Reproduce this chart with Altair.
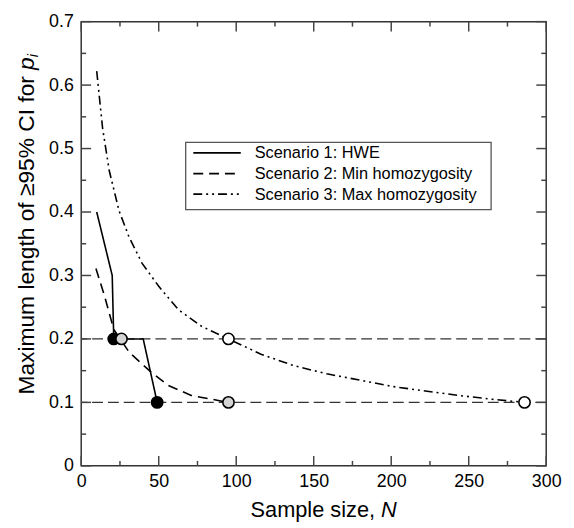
import altair as alt
import pandas as pd

FONT = "Liberation Sans"
W, H = 470, 449

scenario_names = ["Scenario 1: HWE", "Scenario 2: Min homozygosity", "Scenario 3: Max homozygosity"]
scenario_dashes = [[1, 0], [10, 6], [9, 4, 2, 4, 2, 4]]

s1_N = [10, 20, 21, 40, 49]
s1_y = [0.40, 0.30, 0.20, 0.20, 0.10]

s2_N = [9.5, 15, 21, 26, 31, 44, 56, 71, 95]
s2_y = [0.311, 0.268, 0.215, 0.197, 0.179, 0.150, 0.127, 0.111, 0.100]

s3_N = [10, 13.8, 18.1, 24.4, 30.8, 39.3, 50, 62.7, 77.6, 95, 116, 137, 158.5, 180, 201, 222, 243.5, 265, 286]
s3_y = [0.622, 0.532, 0.465, 0.402, 0.361, 0.319, 0.283, 0.246, 0.220, 0.200, 0.176, 0.158, 0.145,
        0.135, 0.125, 0.118, 0.111, 0.105, 0.100]

pt_N = [21, 49, 26, 95, 95, 286]
pt_y = [0.2, 0.1, 0.2, 0.1, 0.2, 0.1]
pt_fill = ["black", "black", "#d4d4d4", "#d4d4d4", "white", "white"]

ref_y = [0.1, 0.2]

x_major = [0, 50, 100, 150, 200, 250, 300]
x_minor = [25, 75, 125, 175, 225, 275]
y_major = [0, 0.1, 0.2, 0.3, 0.4, 0.5, 0.6, 0.7]
y_minor = [0.05, 0.15, 0.25, 0.35, 0.45, 0.55, 0.65]

rows = []
for name, Ns, ys in zip(scenario_names, [s1_N, s2_N, s3_N], [s1_y, s2_y, s3_y]):
    for i, (n, v) in enumerate(zip(Ns, ys)):
        rows.append({"N": n, "y": v, "scenario": name, "i": i})
lines = pd.DataFrame(rows)
pts = pd.DataFrame({"N": pt_N, "y": pt_y, "fill": pt_fill})

x_scale = alt.Scale(domain=[0, 300], nice=False, zero=False)
y_scale = alt.Scale(domain=[0, 0.7], nice=False, zero=False)

x_axis = alt.Axis(values=x_major, domain=False, ticks=False, grid=False, title=None,
                  labelFont=FONT, labelFontSize=18, labelColor="black", labelPadding=7,
                  labelFlush=False)
y_axis = alt.Axis(values=y_major, domain=False, ticks=False, grid=False, title=None,
                  labelFont=FONT, labelFontSize=18, labelColor="black", labelPadding=8,
                  labelExpr="datum.value == 0 ? '0' : format(datum.value, '.1f')")

refs = alt.Chart(pd.DataFrame({"y": ref_y})).mark_rule(
    color="#333", strokeWidth=1.3, strokeDash=[11, 5]
).encode(y=alt.Y("y:Q", scale=y_scale, axis=y_axis))

line = alt.Chart(lines).mark_line(color="black", strokeWidth=1.6).encode(
    x=alt.X("N:Q", scale=x_scale, axis=x_axis),
    y=alt.Y("y:Q", scale=y_scale, axis=y_axis),
    strokeDash=alt.StrokeDash(
        "scenario:N",
        scale=alt.Scale(domain=scenario_names, range=scenario_dashes),
        legend=None,
    ),
    order="i:Q",
)

points = alt.Chart(pts).mark_circle(size=130, stroke="black", strokeWidth=1.6, opacity=1).encode(
    x=alt.X("N:Q", scale=x_scale),
    y=alt.Y("y:Q", scale=y_scale),
    color=alt.Color("fill:N", scale=None),
)

TICK = "#444"


def xticks(vals, length, top):
    d = pd.DataFrame({"v": vals})
    if top:
        y0, y1 = 0, length
    else:
        y0, y1 = H, H - length
    return alt.Chart(d).mark_rule(color=TICK, strokeWidth=1.5).encode(
        x=alt.X("v:Q", scale=x_scale), y=alt.value(y0), y2=alt.value(y1))


def yticks(vals, length, right):
    d = pd.DataFrame({"v": vals})
    if right:
        x0, x1 = W, W - length
    else:
        x0, x1 = 0, length
    return alt.Chart(d).mark_rule(color=TICK, strokeWidth=1.5).encode(
        y=alt.Y("v:Q", scale=y_scale), x=alt.value(x0), x2=alt.value(x1))


tick_layers = [
    xticks(x_major, 10, False), xticks(x_minor, 5, False),
    xticks(x_major, 10, True), xticks(x_minor, 5, True),
    yticks(y_major, 10, False), yticks(y_minor, 5, False),
    yticks(y_major, 10, True), yticks(y_minor, 5, True),
]

one = pd.DataFrame({"a": [0]})

# legend (drawn box)
LX0, LX1, LY0, LY1 = 105.6, 414.3, 122, 190
leg_rows_y = [132.7, 153.7, 174.3]
legend_layers = [
    alt.Chart(one).mark_rect(fill="white", stroke="#555", strokeWidth=1.3).encode(
        x=alt.value(LX0), x2=alt.value(LX1), y=alt.value(LY0), y2=alt.value(LY1))
]
for name, dash, ly in zip(scenario_names, scenario_dashes, leg_rows_y):
    legend_layers.append(
        alt.Chart(one).mark_rule(color="black", strokeWidth=1.8, strokeDash=dash).encode(
            x=alt.value(113.3), x2=alt.value(161.3), y=alt.value(ly)))
    legend_layers.append(
        alt.Chart(one).mark_text(text=name, font=FONT, fontSize=16.5, align="left",
                                 baseline="middle", color="black").encode(
            x=alt.value(175.3), y=alt.value(ly + 0.5)))

xt1 = alt.Chart(one).mark_text(text="Sample size,", font=FONT, fontSize=22, align="right",
                               baseline="middle", color="black").encode(
    x=alt.value(297), y=alt.value(494))
xt2 = alt.Chart(one).mark_text(text="N", font=FONT, fontSize=22, fontStyle="italic",
                               align="left", baseline="middle", color="black").encode(
    x=alt.value(303), y=alt.value(494))
yt1 = alt.Chart(one).mark_text(text="Maximum length of \u226595% CI for", font=FONT, fontSize=23,
                               angle=270, align="right", baseline="middle",
                               color="black").encode(x=alt.value(-55), y=alt.value(55))
yt2 = alt.Chart(one).mark_text(text="p", font=FONT, fontSize=23, fontStyle="italic",
                               angle=270, align="left", baseline="middle",
                               color="black").encode(x=alt.value(-55), y=alt.value(49))
yt3 = alt.Chart(one).mark_text(text="i", font=FONT, fontSize=15, fontStyle="italic",
                               angle=270, align="left", baseline="middle",
                               color="black").encode(x=alt.value(-49), y=alt.value(36))

chart = alt.layer(
    refs, *tick_layers, line, points, *legend_layers, xt1, xt2, yt1, yt2, yt3
).properties(
    width=W, height=H,
    padding={"left": 74, "top": 11, "right": 20, "bottom": 58},
    autosize=alt.AutoSizeParams(type="none"),
).configure_view(stroke="#333", strokeWidth=1.5)

chart.save("out.html", embed_options={"renderer": "svg", "actions": False})
